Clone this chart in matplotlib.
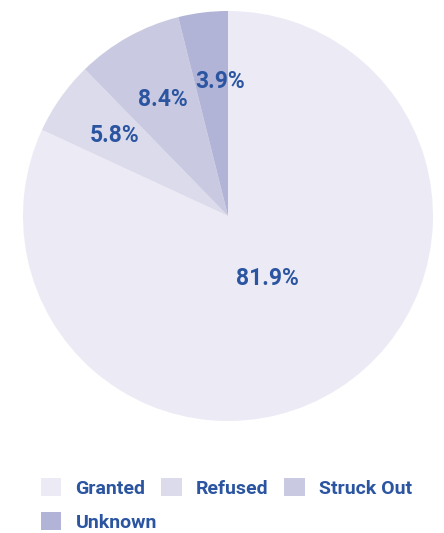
import matplotlib
matplotlib.use("Agg")
import matplotlib.pyplot as plt
import matplotlib.patches as mpatches
import numpy as np

plt.rcParams['font.family'] = ['Roboto', 'DejaVu Sans']
plt.rcParams['font.weight'] = 'bold'

# Outcome shares
labels = ["Granted", "Refused", "Struck Out", "Unknown"]
shares = [81.9, 5.8, 8.4, 3.9]
colors = ["#ECEBF5", "#DCDBEC", "#C9C9E1", "#B1B3D7"]
label_dist = [0.36, 0.68, 0.65, 0.66]
label_nudge = [(0, 0), (0, 0), (0, 0), (6, 0)]  # points
text_color = "#2B55A0"

fig = plt.figure(figsize=(4.44, 5.33), dpi=100)
ax = fig.add_axes([23 / 444, 1 - 421 / 533, 410 / 444, 410 / 533])

wedges, _ = ax.pie(shares, colors=colors, startangle=90, counterclock=False,
                   wedgeprops=dict(linewidth=0))
ax.set_xlim(-1, 1)
ax.set_ylim(-1, 1)
ax.set_aspect('equal')

# percentage labels at each wedge's mid angle
for w, val, d, nd in zip(wedges, shares, label_dist, label_nudge):
    mid = np.deg2rad((w.theta1 + w.theta2) / 2)
    ax.annotate("{:.1f}%".format(val), (d * np.cos(mid), d * np.sin(mid)),
                xytext=nd, textcoords='offset points',
                ha='center', va='center', fontsize=16.5, fontweight='bold',
                color=text_color)

handles = [mpatches.Patch(facecolor=c, edgecolor='none') for c in colors]
leg_kw = dict(frameon=False, fontsize=14, handlelength=1.05, handleheight=1.05,
              handletextpad=0.72, columnspacing=0.82, borderpad=0,
              borderaxespad=0, labelcolor=text_color, loc='upper left')
leg1 = fig.legend(handles[:3], labels[:3], ncol=3,
                  bbox_to_anchor=(41 / 444, 1 - 478 / 533), **leg_kw)
leg2 = fig.legend(handles[3:], labels[3:], ncol=1,
                  bbox_to_anchor=(41 / 444, 1 - 512 / 533), **leg_kw)

fig.savefig("out.png", dpi=100)
